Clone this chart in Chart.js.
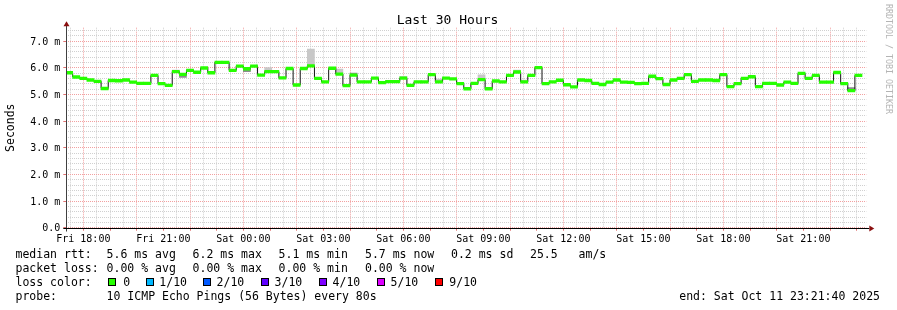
<!DOCTYPE html>
<html><head><meta charset="utf-8">
<script src="https://cdn.jsdelivr.net/npm/chart.js@4/dist/chart.umd.min.js"></script>
<style>
html,body{margin:0;padding:0;background:#fff;width:897px;height:310px;overflow:hidden;}
#wrap{position:relative;width:897px;height:310px;}
canvas{position:absolute;left:0;top:0;}
.t{position:absolute;font-family:"DejaVu Sans Mono",monospace;font-size:11.5px;line-height:14px;color:#000;white-space:pre;}
.box{position:absolute;width:6px;height:6px;border:1px solid #000;}
#title{position:absolute;left:0;top:12px;width:895px;text-align:center;font-family:"DejaVu Sans Mono",monospace;font-size:13px;line-height:15px;color:#000;}
#wm{position:absolute;left:884px;top:4px;writing-mode:vertical-rl;font-family:"DejaVu Sans Mono",monospace;font-size:8.3px;color:#b4b4b4;white-space:pre;}
</style></head>
<body><div id="wrap"><canvas id="c" width="897" height="310"></canvas>
<div id="title">Last 30 Hours</div>
<div id="wm">RRDTOOL / TOBI OETIKER</div>
</div>
<script>
// ---- data ----
const viewStartMin = 17 * 60 + 21 + 40 / 60;   // Fri 17:21:40 (minutes from Fri 00:00)
const viewSpanMin = 30 * 60;                   // last 30 hours
const stepStartMin = 1040;                     // first consolidated step, Fri 17:20
const stepMin = 16;                            // 16 minute steps
const medianRtt = [5.81,5.65,5.60,5.54,5.49,5.22,5.52,5.51,5.54,5.46,
5.41,5.41,5.71,5.40,5.34,5.85,5.75,5.90,5.83,5.99,
5.81,6.20,6.20,5.90,6.06,5.96,6.06,5.72,5.85,5.85,
5.62,5.97,5.35,5.97,6.07,5.60,5.47,5.98,5.76,5.33,
5.72,5.47,5.47,5.61,5.44,5.48,5.48,5.61,5.34,5.47,
5.47,5.74,5.47,5.61,5.58,5.40,5.21,5.41,5.55,5.21,
5.50,5.47,5.71,5.84,5.47,5.71,6.00,5.40,5.47,5.53,
5.36,5.28,5.54,5.52,5.41,5.37,5.46,5.54,5.46,5.45,
5.40,5.41,5.68,5.59,5.37,5.54,5.60,5.74,5.49,5.54,
5.54,5.52,5.74,5.29,5.40,5.60,5.66,5.29,5.41,5.41,
5.35,5.46,5.41,5.79,5.60,5.71,5.46,5.46,5.82,5.40,
5.14,5.71];
const smokeLightSteps = [15,28,34,38,45,47,52,58,63,64];
const smokeLightLow   = [5.85,5.85,6.07,5.76,5.48,5.61,5.47,5.55,5.84,5.47];
const smokeLightHigh  = [5.91,6.00,6.70,5.95,5.53,5.68,5.57,5.73,5.91,5.54];
const smokeDarkSteps = [16,25,40,110];
const smokeDarkLow   = [5.64,5.85,5.72,5.14];
const smokeDarkHigh  = [5.75,5.96,5.80,5.25];

const xTickMinutes = [1080,1260,1440,1620,1800,1980,2160,2340,2520,2700];
const xTickLabels = ['Fri 18:00','Fri 21:00','Sat 00:00','Sat 03:00','Sat 06:00','Sat 09:00','Sat 12:00','Sat 15:00','Sat 18:00','Sat 21:00'];
const yTickLabels = ['0.0','1.0 m','2.0 m','3.0 m','4.0 m','5.0 m','6.0 m','7.0 m'];
const yMax = 7.5;

const rttStats = ['5.6 ms avg','6.2 ms max','5.1 ms min','5.7 ms now','0.2 ms sd','25.5','am/s'];
const lossStats = ['0.00 % avg','0.00 % max','0.00 % min','0.00 % now'];
const lossLabels = ['0','1/10','2/10','3/10','4/10','5/10','9/10'];
const lossColors = ['#26ff00','#00b8ff','#0059ff','#5e00ff','#7e00ff','#dd00ff','#ff0000'];
const probeText = '10 ICMP Echo Pings (56 Bytes) every 80s';
const endText = 'end: Sat Oct 11 23:21:40 2025';

// ---- legend text (HTML) ----
const wrap = document.getElementById('wrap');
function txt(s, x, y, right) {
  const d = document.createElement('div');
  d.className = 't'; d.textContent = s;
  d.style.top = y + 'px';
  if (right !== undefined) d.style.right = right + 'px'; else d.style.left = x + 'px';
  wrap.appendChild(d);
}
const rowY = [247.3, 261.3, 275.3, 289.3];
const statX = [106.6, 192.6, 278.6, 365, 451, 530, 578.6];
txt('median rtt:', 15.5, rowY[0]);
rttStats.forEach((s, i) => txt(s, statX[i], rowY[0]));
txt('packet loss:', 15.5, rowY[1]);
lossStats.forEach((s, i) => txt(s, statX[i], rowY[1]));
txt('loss color:', 15.5, rowY[2]);
const boxX = [108, 145.5, 202.5, 260.5, 318.5, 376.5, 434.5];
const boxLabelX = [123.3, 159.3, 216.6, 274.6, 332.6, 390.6, 449.3];
lossLabels.forEach((s, i) => {
  const b = document.createElement('div');
  b.className = 'box'; b.style.left = boxX[i] + 'px'; b.style.top = '278px';
  b.style.background = lossColors[i];
  wrap.appendChild(b);
  txt(s, boxLabelX[i], rowY[2]);
});
txt('probe:', 15.5, rowY[3]);
txt(probeText, 106.6, rowY[3]);
txt(endText, 0, rowY[3], 17);

// ---- chart ----
const band = 0.05;
const greenData = medianRtt.map((v, i) => ({x: stepStartMin + stepMin * (i + 0.5), y: [v - band, v + band]}));
const lineData = medianRtt.map((v, i) => ({x: stepStartMin + stepMin * i, y: v}));
lineData.push({x: stepStartMin + stepMin * medianRtt.length, y: medianRtt[medianRtt.length - 1]});
const smokeLight = smokeLightSteps.map((k, i) => ({x: stepStartMin + stepMin * (k + 0.5), y: [smokeLightLow[i], smokeLightHigh[i]]}));
const smokeDark = smokeDarkSteps.map((k, i) => ({x: stepStartMin + stepMin * (k + 0.5), y: [smokeDarkLow[i], smokeDarkHigh[i]]}));

const xGrid = [];
for (let m = Math.ceil(viewStartMin / 30) * 30; m <= viewStartMin + viewSpanMin; m += 30) xGrid.push(m);
const yGrid = [];
for (let i = 0; i * 0.2 < yMax - 1e-9; i++) yGrid.push(Math.round(i * 2) / 10);

const minorC = '#d0d0d0', majorC = '#f2a0a0';
const isInt = v => Math.abs(v - Math.round(v)) < 1e-9;
const FONT = "'DejaVu Sans Mono', monospace";
Chart.defaults.font.family = FONT;

const axesPlugin = {
  id: 'rrdAxes',
  afterDatasetsDraw(chart) {
    const {ctx, chartArea: a} = chart;
    const yb = Math.round(a.bottom) + 0.5, xl = Math.round(a.left) + 0.5;
    ctx.save();
    ctx.lineWidth = 1;
    ctx.strokeStyle = '#404040';
    ctx.beginPath(); ctx.moveTo(xl, yb + 3); ctx.lineTo(xl, a.top - 2); ctx.stroke();
    ctx.strokeStyle = '#000';
    ctx.beginPath(); ctx.moveTo(a.left - 3, yb); ctx.lineTo(a.right + 3, yb); ctx.stroke();
    ctx.fillStyle = '#8b1010';
    ctx.beginPath(); ctx.moveTo(a.right + 3, yb - 3); ctx.lineTo(a.right + 8, yb); ctx.lineTo(a.right + 3, yb + 3); ctx.closePath(); ctx.fill();
    ctx.beginPath(); ctx.moveTo(xl - 3, a.top - 1.5); ctx.lineTo(xl, a.top - 6.5); ctx.lineTo(xl + 3, a.top - 1.5); ctx.closePath(); ctx.fill();
    ctx.restore();
  }
};

new Chart(document.getElementById('c'), {
  type: 'line',
  data: {
    datasets: [
      {type: 'bar', label: 'median', data: greenData, backgroundColor: '#26ff00', borderWidth: 0,
       grouped: false, barPercentage: 1, categoryPercentage: 1, order: 0},
      {type: 'line', label: 'median line', data: lineData, stepped: true, borderColor: '#111',
       borderWidth: 1, pointRadius: 0, fill: false, order: 1},
      {type: 'bar', label: 'smoke inner', data: smokeDark, backgroundColor: '#8c8c8c', borderWidth: 0,
       grouped: false, barPercentage: 1, categoryPercentage: 1, order: 2},
      {type: 'bar', label: 'smoke', data: smokeLight, backgroundColor: '#c8c8c8', borderWidth: 0,
       grouped: false, barPercentage: 1, categoryPercentage: 1, order: 3}
    ]
  },
  options: {
    responsive: false, animation: false, devicePixelRatio: 1,
    layout: {padding: {left: 0, top: 27.7, right: 30.7, bottom: 62.3}},
    plugins: {legend: {display: false}, title: {display: false}, tooltip: {enabled: false}},
    scales: {
      x: {
        type: 'linear', min: viewStartMin, max: viewStartMin + viewSpanMin, offset: false,
        afterBuildTicks: s => { s.ticks = xGrid.map(v => ({value: v})); },
        afterFit: s => { s.height = 20; },
        ticks: {autoSkip: false, maxRotation: 0, minRotation: 0, padding: 3, color: '#000',
          font: {size: 10, family: FONT},
          callback: v => { const i = xTickMinutes.indexOf(v); return i >= 0 ? xTickLabels[i] : ''; }},
        grid: {offset: false, lineWidth: 1, tickLength: 3, drawTicks: true, borderDash: [1, 1],
          color: c => (c.tick && c.tick.value % 120 === 0) ? majorC : minorC,
          tickColor: c => (c.tick && c.tick.value % 60 === 0) ? '#e07070' : 'rgba(0,0,0,0)'},
        border: {display: false, dash: [1, 1]}
      },
      y: {
        type: 'linear', min: 0, max: yMax,
        afterBuildTicks: s => { s.ticks = yGrid.map(v => ({value: v})); },
        afterFit: s => { s.width = 66.3; },
        ticks: {autoSkip: false, padding: 3, labelOffset: 1, color: '#000', font: {size: 10, family: FONT},
          callback: v => isInt(v) ? yTickLabels[Math.round(v)] : ''},
        grid: {lineWidth: 1, tickLength: 3, drawTicks: true, borderDash: [1, 1],
          color: c => (c.tick && isInt(c.tick.value)) ? majorC : minorC,
          tickColor: c => (c.tick && isInt(c.tick.value)) ? '#e07070' : 'rgba(0,0,0,0)'},
        border: {display: false, dash: [1, 1]},
        title: {display: true, text: 'Seconds', color: '#000', font: {size: 11.5, family: FONT},
          padding: {top: 4, bottom: 0}}
      }
    }
  },
  plugins: [axesPlugin]
});
</script>
</body></html>
